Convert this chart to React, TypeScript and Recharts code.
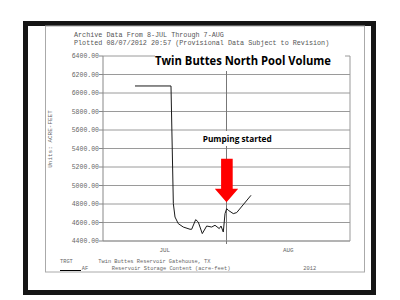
import React from 'react';
import { LineChart, Line, XAxis, YAxis, CartesianGrid, ReferenceLine, ReferenceDot } from 'recharts';

// Day offsets (x) and reservoir storage content in acre-feet (y)
const days = [5.18, 11.01, 11.39, 11.66, 12.19, 13.0, 14.09, 14.36, 15.01, 15.43, 16.08, 16.79, 17.6, 18.14, 18.83, 19.11, 19.48, 19.76, 20.03, 20.29, 21.1, 21.65, 23.97];
const volume = [6076, 6076, 4804, 4659, 4588, 4551, 4527, 4527, 4631, 4605, 4480, 4562, 4551, 4570, 4534, 4562, 4497, 4696, 4750, 4732, 4696, 4707, 4894];

const yTicks = [4400, 4600, 4800, 5000, 5200, 5400, 5600, 5800, 6000, 6200, 6400];
const monthTicks = [10, 20, 30];
const monthLabels = ['JUL', '', 'AUG'];

const pumpingDay = 20;
const pumpingArrowTip = 4820;

const data = days.map((d, i) => ({ day: d, af: volume[i] }));

const MONO = '"Liberation Mono", "DejaVu Sans Mono", monospace';
const SANS = '"Open Sans", "Noto Sans", sans-serif';

const MonthTick = (props: any) => {
  const { x, y, payload } = props;
  const idx = monthTicks.indexOf(payload.value);
  const label = idx >= 0 ? monthLabels[idx] : '';
  if (!label) {
    return <line x1={x} x2={x} y1={y} y2={y + 3} stroke="#777" />;
  }
  return (
    <text x={x} y={y + 11} textAnchor="middle" fontSize={5.9} fill="#666" fontFamily={MONO}>
      {label}
    </text>
  );
};

const Arrow = (p: any) => {
  const { cx, cy } = p;
  const d = `M${cx - 5.4},${cy - 43.4} L${cx + 6.2},${cy - 43.4} L${cx + 6.2},${cy - 13.4} L${cx + 11.7},${cy - 13.4} L${cx},${cy} L${cx - 11.7},${cy - 13.4} L${cx - 5.4},${cy - 13.4} Z`;
  return <path d={d} fill="#ff0000" />;
};

export default function App() {
  return (
    <div style={{ position: 'absolute', left: 0, top: 0, width: 400, height: 300, background: '#fff' }}>
      <div style={{ position: 'absolute', left: 0, top: 0 }}>
        <LineChart width={400} height={300} data={data} margin={{ top: 56, right: 50, bottom: 39, left: 43 }}>
          <CartesianGrid horizontal vertical={false} stroke="#9a9a9a" strokeWidth={1} />
          <XAxis
            dataKey="day"
            type="number"
            domain={[0, 40]}
            ticks={monthTicks}
            height={20}
            tickSize={0}
            tickMargin={0}
            tickLine={false}
            axisLine={{ stroke: '#999' }}
            tick={<MonthTick />}
            interval={0}
          />
          <YAxis
            type="number"
            domain={[4400, 6400]}
            ticks={yTicks}
            width={60}
            tickSize={4}
            tickMargin={0}
            interval={0}
            tickFormatter={(v: number) => v.toFixed(2)}
            tick={{ fontSize: 6.5, fill: '#666', fontFamily: MONO }}
            tickLine={{ stroke: '#888' }}
            axisLine={{ stroke: '#888' }}
          />
          <ReferenceLine x={40} stroke="#999" />
          <ReferenceLine x={pumpingDay} stroke="#777" />
          <Line
            type="linear"
            dataKey="af"
            stroke="#1a1a1a"
            strokeWidth={1}
            dot={false}
            isAnimationActive={false}
          />
          <ReferenceDot x={pumpingDay} y={pumpingArrowTip} r={0} shape={<Arrow />} />
        </LineChart>
      </div>
      <svg width={400} height={300} style={{ position: 'absolute', left: 0, top: 0, pointerEvents: 'none' }}>
        <rect x={25.5} y={23.5} width={348} height={269} fill="none" stroke="#151515" strokeWidth={5} />
        <rect x={45.5} y={26} width={319} height={246} fill="none" stroke="#aaa" strokeWidth={1} />
        <g fontFamily={MONO} fill="#555" fontSize={6.75} style={{ whiteSpace: 'pre' }}>
          <text x={74} y={36.7}>{'Archive Data From  8-JUL Through  7-AUG'}</text>
          <text x={74} y={45}>{'Plotted 08/07/2012  20:57 (Provisional Data Subject to Revision)'}</text>
        </g>
        <text x={51.5} y={139} transform="rotate(-90 51.5 139)" textAnchor="middle" fontFamily={MONO} fontSize={6} fill="#666" style={{ whiteSpace: 'pre' }}>
          {'Units: ACRE-FEET'}
        </text>
        <rect x={155} y={47} width={190} height={24} fill="#fff" />
        <text x={155} y={65} fontFamily={SANS} fontWeight="bold" fontSize={12.5} fill="#000" textLength={176} lengthAdjust="spacingAndGlyphs">
          Twin Buttes North Pool Volume
        </text>
        <rect x={200} y={131} width={75} height={15} fill="#fff" />
        <text x={202.7} y={141.5} fontFamily={SANS} fontWeight="bold" fontSize={9} fill="#000" textLength={69} lengthAdjust="spacingAndGlyphs">
          Pumping started
        </text>
        <g fontFamily={MONO} fill="#666" fontSize={5.35} style={{ whiteSpace: 'pre' }}>
          <text x={60} y={262.5}>TRGT</text>
          <text x={98.3} y={262.5}>{'Twin Buttes Reservoir Gatehouse, TX'}</text>
          <text x={81.7} y={270}>AF</text>
          <text x={111.7} y={270}>{'Reservoir Storage Content (acre-feet)'}</text>
          <text x={303.3} y={270}>2012</text>
        </g>
        <line x1={60} x2={81} y1={270.5} y2={270.5} stroke="#000" strokeWidth={1} />
      </svg>
    </div>
  );
}
